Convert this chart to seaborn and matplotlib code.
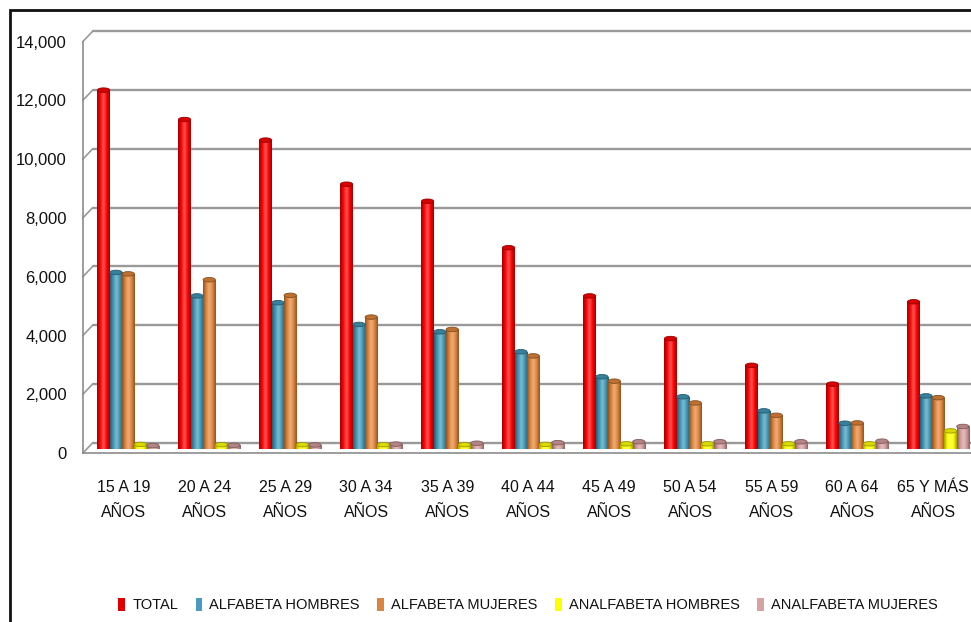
import numpy as np
import pandas as pd
import matplotlib
matplotlib.use("Agg")
import matplotlib.pyplot as plt
import matplotlib.transforms as mtransforms
from matplotlib.colors import LinearSegmentedColormap, to_rgb
from matplotlib.patches import Patch, Rectangle, Ellipse
from matplotlib.lines import Line2D
from matplotlib.ticker import FuncFormatter, FixedLocator
import seaborn as sns

# ---- data ----
categories = ["15 A 19\nAÑOS", "20 A 24\nAÑOS", "25 A 29\nAÑOS", "30 A 34\nAÑOS",
              "35 A 39\nAÑOS", "40 A 44\nAÑOS", "45 A 49\nAÑOS", "50 A 54\nAÑOS",
              "55 A 59\nAÑOS", "60 A 64\nAÑOS", "65 Y MÁS\nAÑOS"]
series_names = ["TOTAL", "ALFABETA HOMBRES", "ALFABETA MUJERES",
                "ANALFABETA HOMBRES", "ANALFABETA MUJERES"]
total = [12200, 11200, 10500, 9000, 8420, 6840, 5200, 3750, 2840, 2200, 5000]
alfabeta_hombres = [6000, 5200, 4970, 4230, 3980, 3300, 2450, 1770, 1290, 870, 1800]
alfabeta_mujeres = [5950, 5750, 5220, 4480, 4060, 3160, 2300, 1560, 1140, 880, 1740]
analfabeta_hombres = [150, 140, 140, 140, 140, 150, 170, 170, 170, 170, 610]
analfabeta_mujeres = [110, 120, 130, 160, 190, 210, 240, 240, 240, 260, 760]
y_ticks = [0, 2000, 4000, 6000, 8000, 10000, 12000, 14000]

bar_colors = ["#FF0000", "#3F97B6", "#E0843A", "#FFFF00", "#D49A9A"]
legend_colors = ["#E00000", "#4A9BBF", "#D9853F", "#FFFF00", "#D6A2A2"]

df = pd.DataFrame({
    "grupo": categories * 5,
    "serie": np.repeat(series_names, len(categories)),
    "valor": total + alfabeta_hombres + alfabeta_mujeres
             + analfabeta_hombres + analfabeta_mujeres,
})

# ---- style ----
sns.set_theme(style="white")
plt.rcParams["font.family"] = ["Liberation Sans", "DejaVu Sans"]
plt.rcParams["text.color"] = "#111111"

W, H, DPI = 971, 622, 100
fig = plt.figure(figsize=(W / DPI, H / DPI), dpi=DPI)

# front plane of the 3-D box: x from 82.7 px to 973.7 px, y from 453.3 px (0) to 41.7 px (14,000)
ax_left, ax_right = 82.7, 973.7
ax_bottom, ax_top = 453.3, 41.7
ax = fig.add_axes([ax_left / W, (H - ax_bottom) / H,
                   (ax_right - ax_left) / W, (ax_bottom - ax_top) / H])
ax.set_facecolor("none")

sns.barplot(data=df, x="grupo", y="valor", hue="serie", order=categories,
            hue_order=series_names, palette=bar_colors, width=0.76, gap=0,
            saturation=1, legend=False, ax=ax, zorder=3)

ax.set_xlim(-0.5, len(categories) - 0.5)
ax.set_ylim(0, 14000)

# pixel -> data conversions for the depth effect
px_x = (len(categories)) / (ax_right - ax_left)
px_y = 14000 / (ax_bottom - ax_top)

# bars sit in the middle of the box depth; gridlines on the back wall
depth_mid = mtransforms.ScaledTranslation(5 / DPI, 4.5 / DPI, fig.dpi_scale_trans)
depth_back = mtransforms.ScaledTranslation(10 / DPI, 10.5 / DPI, fig.dpi_scale_trans)


def shade(color):
    r, g, b = to_rgb(color)
    dark = (r * 0.62, g * 0.62, b * 0.62)
    light = tuple(min(1, c + (1 - c) * 0.35) for c in (r, g, b))
    return LinearSegmentedColormap.from_list(
        "cyl", [dark, color, light, color, dark], N=64)


grad = np.linspace(0, 1, 64).reshape(1, -1)
n_cat = len(categories)
for i, p in enumerate(list(ax.patches)):
    color = bar_colors[i // n_cat]
    tr = ax.transData + depth_mid
    p.set_transform(tr)
    p.set_edgecolor("none")
    x0, y0 = p.get_x(), p.get_y()
    w, h = p.get_width(), p.get_height()
    im = ax.imshow(grad, cmap=shade(color), aspect="auto",
                   extent=(x0, x0 + w, y0, y0 + h), zorder=3,
                   interpolation="bicubic")
    im.set_transform(tr)
    im.set_clip_path(p)
    im.set_clip_on(True)
    # rounded top of the cylinder
    r, g, b = to_rgb(color)
    cap = Ellipse((x0 + w / 2, y0 + h), w, 4.5 * px_y,
                  facecolor=(r * 0.85, g * 0.85, b * 0.85),
                  edgecolor=(r * 0.6, g * 0.6, b * 0.6), lw=0.6,
                  transform=tr, zorder=4)
    ax.add_patch(cap)
ax.set_xlim(-0.5, len(categories) - 0.5)
ax.set_ylim(0, 14000)

grid_col = "#999999"
for v in y_ticks:
    ax.add_line(Line2D([-0.5, len(categories) + 1], [v, v], color=grid_col, lw=1.7,
                       transform=ax.transData + depth_back, clip_on=False, zorder=1))
    ax.add_line(Line2D([-0.5, -0.5 + 10 * px_x], [v, v + 10.5 * px_y],
                       color=grid_col, lw=1.2, clip_on=False, zorder=1))

# axes lines
for s in ["top", "right"]:
    ax.spines[s].set_visible(False)
for s in ["left", "bottom"]:
    ax.spines[s].set_color("#8C8C8C")
    ax.spines[s].set_linewidth(1.2)

ax.yaxis.set_major_locator(FixedLocator(y_ticks))
ax.yaxis.set_major_formatter(FuncFormatter(lambda v, _: f"{int(v):,}"))
ax.tick_params(axis="y", length=4, width=1, color="#8C8C8C", pad=7.5,
               labelsize=12, labelcolor="#111111")

ax.set_xticks(range(n_cat))
ax.set_xticklabels(categories, linespacing=1.8)
ax.set_xticks(np.arange(0.5, n_cat - 0.5, 1.0), minor=True)
ax.tick_params(axis="x", which="major", length=0, pad=19.5, labelsize=11.5,
               labelcolor="#111111")
ax.tick_params(axis="x", which="minor", length=9, width=1, color="#8C8C8C")
ax.set_xlabel("")
ax.set_ylabel("")
ax.grid(False)

# legend
handles = [Patch(facecolor=c, edgecolor="none") for c in legend_colors]
fig.legend(handles, series_names, loc="center", bbox_to_anchor=(0.544, 0.027),
           ncol=5, frameon=False, fontsize=10.5, handlelength=0.45, handleheight=0.95,
           handletextpad=0.5, columnspacing=1.2)

# chart border
fig.add_artist(Rectangle((9.5 / W, -0.1), 2, 0.1 + (H - 10) / H, transform=fig.transFigure,
                         fill=False, edgecolor="#111111", lw=2, clip_on=False))

fig.savefig("out.png", dpi=DPI, facecolor="white")
